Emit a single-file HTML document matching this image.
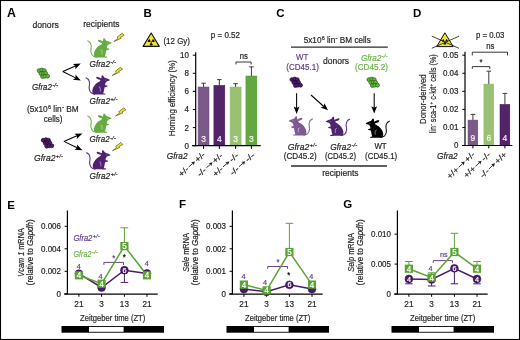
<!DOCTYPE html>
<html><head><meta charset="utf-8"><style>
html,body{margin:0;padding:0;background:#fff;}
svg{display:block;font-family:"Liberation Sans", sans-serif;will-change:transform;}
</style></head><body>
<svg width="520" height="340" viewBox="0 0 520 340">
<rect x="0.5" y="0.5" width="519" height="339" fill="#fff" stroke="#000" stroke-width="1.1"/>
<text x="6.9" y="17.1" font-size="12.3" fill="#000" font-weight="bold">A</text>
<text x="143.6" y="17.2" font-size="11.5" fill="#000" font-weight="bold">B</text>
<text x="276.3" y="17.2" font-size="11.5" fill="#000" font-weight="bold">C</text>
<text x="413.0" y="17.3" font-size="11.5" fill="#000" font-weight="bold">D</text>
<text x="7.3" y="208.8" font-size="11.5" fill="#000" font-weight="bold">E</text>
<text x="179.0" y="207.9" font-size="11.5" fill="#000" font-weight="bold">F</text>
<text x="343.2" y="207.9" font-size="11.5" fill="#000" font-weight="bold">G</text>
<text x="32.5" y="27.6" font-size="9.63" fill="#231f20" stroke="#231f20" stroke-width="0.2" textLength="26.3" lengthAdjust="spacingAndGlyphs">donors</text>
<text x="83.3" y="27.4" font-size="9.63" fill="#231f20" stroke="#231f20" stroke-width="0.2" textLength="36.2" lengthAdjust="spacingAndGlyphs">recipients</text>
<g transform="translate(37.3,68.3)"><circle cx="1.71" cy="2.3" r="1.95" fill="#66b83c" stroke="#285e12" stroke-width="0.7"/><circle cx="4.44" cy="1.7" r="1.95" fill="#66b83c" stroke="#285e12" stroke-width="0.7"/><circle cx="6.99" cy="2.3" r="1.95" fill="#66b83c" stroke="#285e12" stroke-width="0.7"/><circle cx="3.64" cy="5.2" r="1.95" fill="#66b83c" stroke="#285e12" stroke-width="0.7"/><circle cx="6.11" cy="5.0" r="1.95" fill="#66b83c" stroke="#285e12" stroke-width="0.7"/><circle cx="8.31" cy="5.0" r="1.95" fill="#66b83c" stroke="#285e12" stroke-width="0.7"/><circle cx="5.23" cy="8.3" r="1.95" fill="#66b83c" stroke="#285e12" stroke-width="0.7"/><circle cx="7.6" cy="7.9" r="1.95" fill="#66b83c" stroke="#285e12" stroke-width="0.7"/><circle cx="10.33" cy="7.9" r="1.95" fill="#66b83c" stroke="#285e12" stroke-width="0.7"/></g>
<text x="32.1" y="89.89999999999999" font-size="9.1" fill="#231f20" stroke="#231f20" stroke-width="0.2" font-style="italic" textLength="19.8" lengthAdjust="spacingAndGlyphs">Gfra2</text>
<text x="52.2" y="87.17999999999999" font-size="6.18" fill="#231f20" stroke="#231f20" stroke-width="0.2" font-style="italic" textLength="6.0" lengthAdjust="spacingAndGlyphs">-/-</text>
<line x1="62.8" y1="71.5" x2="75.94684461866785" y2="65.72999597291799" stroke="#000" stroke-width="1.05" />
<polygon points="80.80,63.60 75.19,69.23 75.49,65.93 72.86,63.92" fill="#000"/>
<line x1="62.8" y1="71.5" x2="76.05953588770043" y2="78.12976794385023" stroke="#000" stroke-width="1.05" />
<polygon points="80.80,80.50 72.88,79.78 75.61,77.91 75.48,74.60" fill="#000"/>
<g transform="translate(115.3,33.0) scale(-1.05,1.05)"><path d="M18.12,23.02 C18.70,22.78 20.74,22.50 21.60,21.60 C22.46,20.70 23.08,19.10 23.30,17.60 C23.52,16.10 22.80,14.00 22.90,12.60 C23.00,11.20 23.35,10.05 23.90,9.20 C24.45,8.35 25.82,7.78 26.20,7.50 " fill="none" stroke="#66aa42" stroke-width="1.05" stroke-linecap="round" opacity="0.9"/><path d="M3.50,9.50 C3.57,9.34 4.24,9.07 4.60,8.90 C4.96,8.73 5.80,8.37 6.20,8.20 C6.60,8.03 7.24,7.75 7.60,7.60 C7.96,7.45 8.67,7.29 8.90,7.10 C9.13,6.91 9.14,6.48 9.35,6.20 C9.56,5.92 10.20,5.11 10.47,5.00 C10.74,4.89 11.19,5.13 11.34,5.40 C11.49,5.67 11.53,6.64 11.56,6.99 C11.59,7.34 11.53,7.88 11.60,8.00 C11.67,8.12 11.78,8.05 12.10,7.90 C12.42,7.75 13.49,7.09 14.00,6.90 C14.51,6.71 15.55,6.46 15.90,6.50 C16.25,6.54 16.57,6.97 16.60,7.20 C16.63,7.43 16.42,7.96 16.10,8.20 C15.78,8.44 14.66,8.80 14.20,9.00 C13.74,9.20 12.82,9.46 12.66,9.68 C12.50,9.90 12.63,10.29 13.02,10.63 C13.41,10.97 14.91,11.64 15.60,12.20 C16.29,12.76 17.63,14.05 18.20,14.80 C18.77,15.55 19.62,17.03 19.90,17.80 C20.18,18.57 20.35,19.96 20.30,20.60 C20.25,21.24 19.84,22.24 19.50,22.60 C19.16,22.96 18.92,23.19 17.76,23.30 C16.60,23.41 12.09,23.39 10.83,23.40 C9.57,23.41 8.72,23.47 8.28,23.40 C7.84,23.33 7.56,23.02 7.56,22.87 C7.56,22.72 7.99,22.39 8.28,22.29 C8.57,22.19 9.61,22.44 9.74,22.15 C9.87,21.86 9.36,20.72 9.23,20.11 C9.10,19.50 8.89,18.04 8.79,17.55 C8.69,17.06 8.71,16.65 8.50,16.46 C8.29,16.27 7.54,16.20 7.19,16.10 C6.84,16.00 6.03,15.90 5.88,15.73 C5.73,15.56 5.88,15.01 6.10,14.86 C6.32,14.71 7.30,14.72 7.56,14.64 C7.82,14.56 8.04,14.57 8.07,14.28 C8.10,13.99 7.94,12.87 7.77,12.45 C7.60,12.03 7.16,11.36 6.83,11.10 C6.50,10.84 5.66,10.63 5.30,10.50 C4.94,10.37 4.34,10.23 4.10,10.10 C3.86,9.97 3.43,9.66 3.50,9.50 Z" fill="#66aa42"/><path d="M14.11,16.10 C13.93,16.16 13.26,16.16 13.02,16.46 C12.78,16.76 12.72,17.25 12.66,17.92 C12.60,18.59 12.66,20.04 12.66,20.47 " fill="none" stroke="#fff" stroke-width="0.55" opacity="0.8"/><circle cx="7.6" cy="9.5" r="0.45" fill="#fff" opacity="0.7"/></g>
<g transform="translate(113.9,41.5) rotate(40.5) scale(0.78,0.98) translate(-1.0,-12)"><polygon points="2.3,0 5.9,0.4 3.9,4.5 5.4,4.7 1.0,12 2.3,6.7 0.5,6.6" fill="#f2e41a" stroke="#2a2a20" stroke-width="0.55" stroke-linejoin="round" vector-effect="non-scaling-stroke"/></g>
<text x="89.6" y="66.89999999999999" font-size="9.1" fill="#231f20" stroke="#231f20" stroke-width="0.2" font-style="italic" textLength="20.3" lengthAdjust="spacingAndGlyphs">Gfra2</text>
<text x="110.19999999999999" y="64.17999999999999" font-size="6.18" fill="#231f20" stroke="#231f20" stroke-width="0.2" font-style="italic" textLength="6.0" lengthAdjust="spacingAndGlyphs">-/-</text>
<g transform="translate(113.6,70.0) scale(-1.05,1.05)"><path d="M18.12,23.02 C18.70,22.78 20.74,22.50 21.60,21.60 C22.46,20.70 23.08,19.10 23.30,17.60 C23.52,16.10 22.80,14.00 22.90,12.60 C23.00,11.20 23.35,10.05 23.90,9.20 C24.45,8.35 25.82,7.78 26.20,7.50 " fill="none" stroke="#4f2173" stroke-width="1.05" stroke-linecap="round" opacity="0.9"/><path d="M3.50,9.50 C3.57,9.34 4.24,9.07 4.60,8.90 C4.96,8.73 5.80,8.37 6.20,8.20 C6.60,8.03 7.24,7.75 7.60,7.60 C7.96,7.45 8.67,7.29 8.90,7.10 C9.13,6.91 9.14,6.48 9.35,6.20 C9.56,5.92 10.20,5.11 10.47,5.00 C10.74,4.89 11.19,5.13 11.34,5.40 C11.49,5.67 11.53,6.64 11.56,6.99 C11.59,7.34 11.53,7.88 11.60,8.00 C11.67,8.12 11.78,8.05 12.10,7.90 C12.42,7.75 13.49,7.09 14.00,6.90 C14.51,6.71 15.55,6.46 15.90,6.50 C16.25,6.54 16.57,6.97 16.60,7.20 C16.63,7.43 16.42,7.96 16.10,8.20 C15.78,8.44 14.66,8.80 14.20,9.00 C13.74,9.20 12.82,9.46 12.66,9.68 C12.50,9.90 12.63,10.29 13.02,10.63 C13.41,10.97 14.91,11.64 15.60,12.20 C16.29,12.76 17.63,14.05 18.20,14.80 C18.77,15.55 19.62,17.03 19.90,17.80 C20.18,18.57 20.35,19.96 20.30,20.60 C20.25,21.24 19.84,22.24 19.50,22.60 C19.16,22.96 18.92,23.19 17.76,23.30 C16.60,23.41 12.09,23.39 10.83,23.40 C9.57,23.41 8.72,23.47 8.28,23.40 C7.84,23.33 7.56,23.02 7.56,22.87 C7.56,22.72 7.99,22.39 8.28,22.29 C8.57,22.19 9.61,22.44 9.74,22.15 C9.87,21.86 9.36,20.72 9.23,20.11 C9.10,19.50 8.89,18.04 8.79,17.55 C8.69,17.06 8.71,16.65 8.50,16.46 C8.29,16.27 7.54,16.20 7.19,16.10 C6.84,16.00 6.03,15.90 5.88,15.73 C5.73,15.56 5.88,15.01 6.10,14.86 C6.32,14.71 7.30,14.72 7.56,14.64 C7.82,14.56 8.04,14.57 8.07,14.28 C8.10,13.99 7.94,12.87 7.77,12.45 C7.60,12.03 7.16,11.36 6.83,11.10 C6.50,10.84 5.66,10.63 5.30,10.50 C4.94,10.37 4.34,10.23 4.10,10.10 C3.86,9.97 3.43,9.66 3.50,9.50 Z" fill="#4f2173"/><path d="M14.11,16.10 C13.93,16.16 13.26,16.16 13.02,16.46 C12.78,16.76 12.72,17.25 12.66,17.92 C12.60,18.59 12.66,20.04 12.66,20.47 " fill="none" stroke="#fff" stroke-width="0.55" opacity="0.8"/><circle cx="7.6" cy="9.5" r="0.45" fill="#fff" opacity="0.7"/></g>
<g transform="translate(112.2,75.5) rotate(40.5) scale(0.78,0.98) translate(-1.0,-12)"><polygon points="2.3,0 5.9,0.4 3.9,4.5 5.4,4.7 1.0,12 2.3,6.7 0.5,6.6" fill="#f2e41a" stroke="#2a2a20" stroke-width="0.55" stroke-linejoin="round" vector-effect="non-scaling-stroke"/></g>
<text x="89.6" y="104.1" font-size="9.1" fill="#231f20" stroke="#231f20" stroke-width="0.2" font-style="italic" textLength="20.3" lengthAdjust="spacingAndGlyphs">Gfra2</text>
<text x="110.19999999999999" y="101.38" font-size="6.18" fill="#231f20" stroke="#231f20" stroke-width="0.2" font-style="italic" textLength="7.2" lengthAdjust="spacingAndGlyphs">+/-</text>
<text x="26.9" y="111.9" font-size="9.1" fill="#231f20" stroke="#231f20" stroke-width="0.2" textLength="51.8" lengthAdjust="spacingAndGlyphs">(5x10<tspan font-size="6" dx="0.3" dy="-3.2">6</tspan><tspan dy="3.2"> lin</tspan><tspan font-size="6.5" dx="0.4" dy="-3.0">-</tspan><tspan dy="3.0"> BM</tspan></text>
<text x="43.8" y="121.7" font-size="9.1" fill="#231f20" stroke="#231f20" stroke-width="0.2" textLength="18.7" lengthAdjust="spacingAndGlyphs">cells)</text>
<g transform="translate(115.3,108.3) scale(-1.05,1.05)"><path d="M18.12,23.02 C18.70,22.78 20.74,22.50 21.60,21.60 C22.46,20.70 23.08,19.10 23.30,17.60 C23.52,16.10 22.80,14.00 22.90,12.60 C23.00,11.20 23.35,10.05 23.90,9.20 C24.45,8.35 25.82,7.78 26.20,7.50 " fill="none" stroke="#66aa42" stroke-width="1.05" stroke-linecap="round" opacity="0.9"/><path d="M3.50,9.50 C3.57,9.34 4.24,9.07 4.60,8.90 C4.96,8.73 5.80,8.37 6.20,8.20 C6.60,8.03 7.24,7.75 7.60,7.60 C7.96,7.45 8.67,7.29 8.90,7.10 C9.13,6.91 9.14,6.48 9.35,6.20 C9.56,5.92 10.20,5.11 10.47,5.00 C10.74,4.89 11.19,5.13 11.34,5.40 C11.49,5.67 11.53,6.64 11.56,6.99 C11.59,7.34 11.53,7.88 11.60,8.00 C11.67,8.12 11.78,8.05 12.10,7.90 C12.42,7.75 13.49,7.09 14.00,6.90 C14.51,6.71 15.55,6.46 15.90,6.50 C16.25,6.54 16.57,6.97 16.60,7.20 C16.63,7.43 16.42,7.96 16.10,8.20 C15.78,8.44 14.66,8.80 14.20,9.00 C13.74,9.20 12.82,9.46 12.66,9.68 C12.50,9.90 12.63,10.29 13.02,10.63 C13.41,10.97 14.91,11.64 15.60,12.20 C16.29,12.76 17.63,14.05 18.20,14.80 C18.77,15.55 19.62,17.03 19.90,17.80 C20.18,18.57 20.35,19.96 20.30,20.60 C20.25,21.24 19.84,22.24 19.50,22.60 C19.16,22.96 18.92,23.19 17.76,23.30 C16.60,23.41 12.09,23.39 10.83,23.40 C9.57,23.41 8.72,23.47 8.28,23.40 C7.84,23.33 7.56,23.02 7.56,22.87 C7.56,22.72 7.99,22.39 8.28,22.29 C8.57,22.19 9.61,22.44 9.74,22.15 C9.87,21.86 9.36,20.72 9.23,20.11 C9.10,19.50 8.89,18.04 8.79,17.55 C8.69,17.06 8.71,16.65 8.50,16.46 C8.29,16.27 7.54,16.20 7.19,16.10 C6.84,16.00 6.03,15.90 5.88,15.73 C5.73,15.56 5.88,15.01 6.10,14.86 C6.32,14.71 7.30,14.72 7.56,14.64 C7.82,14.56 8.04,14.57 8.07,14.28 C8.10,13.99 7.94,12.87 7.77,12.45 C7.60,12.03 7.16,11.36 6.83,11.10 C6.50,10.84 5.66,10.63 5.30,10.50 C4.94,10.37 4.34,10.23 4.10,10.10 C3.86,9.97 3.43,9.66 3.50,9.50 Z" fill="#66aa42"/><path d="M14.11,16.10 C13.93,16.16 13.26,16.16 13.02,16.46 C12.78,16.76 12.72,17.25 12.66,17.92 C12.60,18.59 12.66,20.04 12.66,20.47 " fill="none" stroke="#fff" stroke-width="0.55" opacity="0.8"/><circle cx="7.6" cy="9.5" r="0.45" fill="#fff" opacity="0.7"/></g>
<g transform="translate(115.5,116.1) rotate(40.5) scale(0.78,0.98) translate(-1.0,-12)"><polygon points="2.3,0 5.9,0.4 3.9,4.5 5.4,4.7 1.0,12 2.3,6.7 0.5,6.6" fill="#f2e41a" stroke="#2a2a20" stroke-width="0.55" stroke-linejoin="round" vector-effect="non-scaling-stroke"/></g>
<text x="89.6" y="142.3" font-size="9.1" fill="#231f20" stroke="#231f20" stroke-width="0.2" font-style="italic" textLength="20.0" lengthAdjust="spacingAndGlyphs">Gfra2</text>
<text x="109.89999999999999" y="139.58" font-size="6.18" fill="#231f20" stroke="#231f20" stroke-width="0.2" font-style="italic" textLength="6.0" lengthAdjust="spacingAndGlyphs">-/-</text>
<g transform="translate(41.5,137.9)"><circle cx="1.71" cy="2.3" r="1.95" fill="#4f1f6e" stroke="#200630" stroke-width="0.7"/><circle cx="4.44" cy="1.7" r="1.95" fill="#4f1f6e" stroke="#200630" stroke-width="0.7"/><circle cx="6.99" cy="2.3" r="1.95" fill="#4f1f6e" stroke="#200630" stroke-width="0.7"/><circle cx="3.64" cy="5.2" r="1.95" fill="#4f1f6e" stroke="#200630" stroke-width="0.7"/><circle cx="6.11" cy="5.0" r="1.95" fill="#4f1f6e" stroke="#200630" stroke-width="0.7"/><circle cx="8.31" cy="5.0" r="1.95" fill="#4f1f6e" stroke="#200630" stroke-width="0.7"/><circle cx="5.23" cy="8.3" r="1.95" fill="#4f1f6e" stroke="#200630" stroke-width="0.7"/><circle cx="7.6" cy="7.9" r="1.95" fill="#4f1f6e" stroke="#200630" stroke-width="0.7"/><circle cx="10.33" cy="7.9" r="1.95" fill="#4f1f6e" stroke="#200630" stroke-width="0.7"/></g>
<line x1="63.9" y1="141.4" x2="77.53535770941124" y2="135.50362909863298" stroke="#000" stroke-width="1.05" />
<polygon points="82.40,133.40 76.76,139.00 77.08,135.70 74.46,133.68" fill="#000"/>
<line x1="63.9" y1="141.4" x2="77.6239439310188" y2="148.00232978303066" stroke="#000" stroke-width="1.05" />
<polygon points="82.40,150.30 74.47,149.71 77.17,147.79 76.99,144.48" fill="#000"/>
<text x="34.0" y="160.5" font-size="9.1" fill="#231f20" stroke="#231f20" stroke-width="0.2" font-style="italic" textLength="21.400000000000002" lengthAdjust="spacingAndGlyphs">Gfra2</text>
<text x="55.7" y="157.78" font-size="6.18" fill="#231f20" stroke="#231f20" stroke-width="0.2" font-style="italic" textLength="7.2" lengthAdjust="spacingAndGlyphs">+/-</text>
<g transform="translate(114.1,144.9) scale(-1.05,1.05)"><path d="M18.12,23.02 C18.70,22.78 20.74,22.50 21.60,21.60 C22.46,20.70 23.08,19.10 23.30,17.60 C23.52,16.10 22.80,14.00 22.90,12.60 C23.00,11.20 23.35,10.05 23.90,9.20 C24.45,8.35 25.82,7.78 26.20,7.50 " fill="none" stroke="#4f2173" stroke-width="1.05" stroke-linecap="round" opacity="0.9"/><path d="M3.50,9.50 C3.57,9.34 4.24,9.07 4.60,8.90 C4.96,8.73 5.80,8.37 6.20,8.20 C6.60,8.03 7.24,7.75 7.60,7.60 C7.96,7.45 8.67,7.29 8.90,7.10 C9.13,6.91 9.14,6.48 9.35,6.20 C9.56,5.92 10.20,5.11 10.47,5.00 C10.74,4.89 11.19,5.13 11.34,5.40 C11.49,5.67 11.53,6.64 11.56,6.99 C11.59,7.34 11.53,7.88 11.60,8.00 C11.67,8.12 11.78,8.05 12.10,7.90 C12.42,7.75 13.49,7.09 14.00,6.90 C14.51,6.71 15.55,6.46 15.90,6.50 C16.25,6.54 16.57,6.97 16.60,7.20 C16.63,7.43 16.42,7.96 16.10,8.20 C15.78,8.44 14.66,8.80 14.20,9.00 C13.74,9.20 12.82,9.46 12.66,9.68 C12.50,9.90 12.63,10.29 13.02,10.63 C13.41,10.97 14.91,11.64 15.60,12.20 C16.29,12.76 17.63,14.05 18.20,14.80 C18.77,15.55 19.62,17.03 19.90,17.80 C20.18,18.57 20.35,19.96 20.30,20.60 C20.25,21.24 19.84,22.24 19.50,22.60 C19.16,22.96 18.92,23.19 17.76,23.30 C16.60,23.41 12.09,23.39 10.83,23.40 C9.57,23.41 8.72,23.47 8.28,23.40 C7.84,23.33 7.56,23.02 7.56,22.87 C7.56,22.72 7.99,22.39 8.28,22.29 C8.57,22.19 9.61,22.44 9.74,22.15 C9.87,21.86 9.36,20.72 9.23,20.11 C9.10,19.50 8.89,18.04 8.79,17.55 C8.69,17.06 8.71,16.65 8.50,16.46 C8.29,16.27 7.54,16.20 7.19,16.10 C6.84,16.00 6.03,15.90 5.88,15.73 C5.73,15.56 5.88,15.01 6.10,14.86 C6.32,14.71 7.30,14.72 7.56,14.64 C7.82,14.56 8.04,14.57 8.07,14.28 C8.10,13.99 7.94,12.87 7.77,12.45 C7.60,12.03 7.16,11.36 6.83,11.10 C6.50,10.84 5.66,10.63 5.30,10.50 C4.94,10.37 4.34,10.23 4.10,10.10 C3.86,9.97 3.43,9.66 3.50,9.50 Z" fill="#4f2173"/><path d="M14.11,16.10 C13.93,16.16 13.26,16.16 13.02,16.46 C12.78,16.76 12.72,17.25 12.66,17.92 C12.60,18.59 12.66,20.04 12.66,20.47 " fill="none" stroke="#fff" stroke-width="0.55" opacity="0.8"/><circle cx="7.6" cy="9.5" r="0.45" fill="#fff" opacity="0.7"/></g>
<g transform="translate(112.5,150.7) rotate(40.5) scale(0.78,0.98) translate(-1.0,-12)"><polygon points="2.3,0 5.9,0.4 3.9,4.5 5.4,4.7 1.0,12 2.3,6.7 0.5,6.6" fill="#f2e41a" stroke="#2a2a20" stroke-width="0.55" stroke-linejoin="round" vector-effect="non-scaling-stroke"/></g>
<text x="89.6" y="178.8" font-size="9.1" fill="#231f20" stroke="#231f20" stroke-width="0.2" font-style="italic" textLength="20.5" lengthAdjust="spacingAndGlyphs">Gfra2</text>
<text x="110.39999999999999" y="176.08" font-size="6.18" fill="#231f20" stroke="#231f20" stroke-width="0.2" font-style="italic" textLength="7.2" lengthAdjust="spacingAndGlyphs">+/-</text>
<polygon points="151.2,33.0 159.3,46.4 143.1,46.4" fill="#f3e62e" stroke="#111" stroke-width="1.1" stroke-linejoin="round"/>
<g transform="translate(151.2,42.0) scale(1.0)"><circle r="0.75" fill="#111"/><path d="M-0.57,-1.00 L-1.75,-3.03 A3.5,3.5 0 0 1 1.75,-3.03 L0.57,-1.00 A1.15,1.15 0 0 0 -0.57,-1.00 Z" fill="#111" transform="rotate(-60)"/><path d="M-0.57,-1.00 L-1.75,-3.03 A3.5,3.5 0 0 1 1.75,-3.03 L0.57,-1.00 A1.15,1.15 0 0 0 -0.57,-1.00 Z" fill="#111" transform="rotate(60)"/><path d="M-0.57,-1.00 L-1.75,-3.03 A3.5,3.5 0 0 1 1.75,-3.03 L0.57,-1.00 A1.15,1.15 0 0 0 -0.57,-1.00 Z" fill="#111" transform="rotate(180)"/></g>
<text x="163.4" y="43.7" font-size="9.1" fill="#231f20" stroke="#231f20" stroke-width="0.2" textLength="26.6" lengthAdjust="spacingAndGlyphs">(12 Gy)</text>
<text x="210.8" y="37.7" font-size="8.56" fill="#231f20" stroke="#231f20" stroke-width="0.2" textLength="29.2" lengthAdjust="spacingAndGlyphs">p = 0.52</text>
<line x1="203.55" y1="87.0" x2="203.55" y2="83.2" stroke="#3a3a3a" stroke-width="1" />
<line x1="201.25" y1="83.2" x2="205.85000000000002" y2="83.2" stroke="#3a3a3a" stroke-width="1" />
<rect x="198.1" y="87.0" width="10.900000000000006" height="58.69999999999999" fill="#7b5a8a" stroke="#6a4a7a" stroke-width="0.5"/>
<text x="203.55" y="141.6" font-size="9.1" fill="#fff" stroke="#fff" stroke-width="0.2" text-anchor="middle" textLength="4.73" lengthAdjust="spacingAndGlyphs" fill-opacity="0.9">3</text>
<line x1="203.55" y1="145.7" x2="203.55" y2="148.9" stroke="#000" stroke-width="1" />
<line x1="219.35000000000002" y1="85.4" x2="219.35000000000002" y2="79.6" stroke="#3a3a3a" stroke-width="1" />
<line x1="217.05" y1="79.6" x2="221.65000000000003" y2="79.6" stroke="#3a3a3a" stroke-width="1" />
<rect x="213.9" y="85.4" width="10.900000000000006" height="60.29999999999998" fill="#53246a" stroke="#3c1052" stroke-width="0.5"/>
<text x="219.35000000000002" y="141.6" font-size="9.1" fill="#fff" stroke="#fff" stroke-width="0.2" text-anchor="middle" textLength="4.73" lengthAdjust="spacingAndGlyphs" fill-opacity="0.9">4</text>
<line x1="219.35000000000002" y1="145.7" x2="219.35000000000002" y2="148.9" stroke="#000" stroke-width="1" />
<line x1="235.6" y1="87.0" x2="235.6" y2="83.7" stroke="#3a3a3a" stroke-width="1" />
<line x1="233.29999999999998" y1="83.7" x2="237.9" y2="83.7" stroke="#3a3a3a" stroke-width="1" />
<rect x="230.1" y="87.0" width="11.0" height="58.69999999999999" fill="#98c173" stroke="#8ab565" stroke-width="0.5"/>
<text x="235.6" y="141.6" font-size="9.1" fill="#fff" stroke="#fff" stroke-width="0.2" text-anchor="middle" textLength="4.73" lengthAdjust="spacingAndGlyphs" fill-opacity="0.9">3</text>
<line x1="235.6" y1="145.7" x2="235.6" y2="148.9" stroke="#000" stroke-width="1" />
<line x1="251.39999999999998" y1="76.0" x2="251.39999999999998" y2="66.9" stroke="#3a3a3a" stroke-width="1" />
<line x1="249.09999999999997" y1="66.9" x2="253.7" y2="66.9" stroke="#3a3a3a" stroke-width="1" />
<rect x="245.9" y="76.0" width="10.999999999999972" height="69.69999999999999" fill="#62a73f" stroke="#54992f" stroke-width="0.5"/>
<text x="251.39999999999998" y="141.6" font-size="9.1" fill="#fff" stroke="#fff" stroke-width="0.2" text-anchor="middle" textLength="4.73" lengthAdjust="spacingAndGlyphs" fill-opacity="0.9">3</text>
<line x1="251.39999999999998" y1="145.7" x2="251.39999999999998" y2="148.9" stroke="#000" stroke-width="1" />
<line x1="195.7" y1="52.3" x2="195.7" y2="146.2" stroke="#000" stroke-width="1.2" />
<line x1="192.0" y1="145.7" x2="260.7" y2="145.7" stroke="#000" stroke-width="1.2" />
<line x1="192.8" y1="145.7" x2="195.7" y2="145.7" stroke="#000" stroke-width="1" />
<text x="189.0" y="148.6" font-size="8.56" fill="#231f20" stroke="#231f20" stroke-width="0.2" text-anchor="end" textLength="4.45" lengthAdjust="spacingAndGlyphs">0</text>
<line x1="192.8" y1="127.6" x2="195.7" y2="127.6" stroke="#000" stroke-width="1" />
<text x="189.0" y="130.5" font-size="8.56" fill="#231f20" stroke="#231f20" stroke-width="0.2" text-anchor="end" textLength="4.45" lengthAdjust="spacingAndGlyphs">2</text>
<line x1="192.8" y1="109.49999999999999" x2="195.7" y2="109.49999999999999" stroke="#000" stroke-width="1" />
<text x="189.0" y="112.39999999999999" font-size="8.56" fill="#231f20" stroke="#231f20" stroke-width="0.2" text-anchor="end" textLength="4.45" lengthAdjust="spacingAndGlyphs">4</text>
<line x1="192.8" y1="91.39999999999998" x2="195.7" y2="91.39999999999998" stroke="#000" stroke-width="1" />
<text x="189.0" y="94.29999999999998" font-size="8.56" fill="#231f20" stroke="#231f20" stroke-width="0.2" text-anchor="end" textLength="4.45" lengthAdjust="spacingAndGlyphs">6</text>
<line x1="192.8" y1="73.29999999999998" x2="195.7" y2="73.29999999999998" stroke="#000" stroke-width="1" />
<text x="189.0" y="76.19999999999999" font-size="8.56" fill="#231f20" stroke="#231f20" stroke-width="0.2" text-anchor="end" textLength="4.45" lengthAdjust="spacingAndGlyphs">8</text>
<line x1="192.8" y1="55.19999999999999" x2="195.7" y2="55.19999999999999" stroke="#000" stroke-width="1" />
<text x="189.0" y="58.09999999999999" font-size="8.56" fill="#231f20" stroke="#231f20" stroke-width="0.2" text-anchor="end" textLength="8.9" lengthAdjust="spacingAndGlyphs">10</text>
<path d="M236,64.4 V62 H251.1 V64.4" fill="none" stroke="#231f20" stroke-width="0.9"/>
<text x="243.9" y="58.6" font-size="8.24" fill="#231f20" stroke="#231f20" stroke-width="0.2" text-anchor="middle" textLength="8.13" lengthAdjust="spacingAndGlyphs">ns</text>
<text x="0" y="0" font-size="9.2" fill="#231f20" stroke="#231f20" stroke-width="0.2" text-anchor="middle" textLength="76" lengthAdjust="spacingAndGlyphs" transform="translate(175.4,98.2) rotate(-90)">Homing efficiency (%)</text>
<text x="166.8" y="158.6" font-size="9.1" fill="#231f20" stroke="#231f20" stroke-width="0.2" font-style="italic" textLength="20.7" lengthAdjust="spacingAndGlyphs">Gfra2</text>
<g class="rl" transform="translate(181.40,177.20) rotate(-41.5)"><text x="0" y="0" font-size="8.2" fill="#231f20" stroke="#231f20" stroke-width="0.2" textLength="10.9" lengthAdjust="spacingAndGlyphs">+/-</text><line x1="12.200000000000001" y1="-2.8" x2="17.8" y2="-2.8" stroke="#231f20" stroke-width="0.85"/><polygon points="20.6,-2.8 17.0,-4.8 17.700000000000003,-2.8 17.0,-0.8" fill="#231f20"/><text x="21.8" y="0" font-size="8.2" fill="#231f20" stroke="#231f20" stroke-width="0.2" textLength="10.9" lengthAdjust="spacingAndGlyphs">+/-</text></g>
<g class="rl" transform="translate(199.97,177.24) rotate(-41.5)"><text x="0" y="0" font-size="8.2" fill="#231f20" stroke="#231f20" stroke-width="0.2" textLength="9.6" lengthAdjust="spacingAndGlyphs">-/-</text><line x1="10.9" y1="-2.8" x2="16.5" y2="-2.8" stroke="#231f20" stroke-width="0.85"/><polygon points="19.3,-2.8 15.700000000000001,-4.8 16.400000000000002,-2.8 15.700000000000001,-0.8" fill="#231f20"/><text x="20.5" y="0" font-size="8.2" fill="#231f20" stroke="#231f20" stroke-width="0.2" textLength="10.9" lengthAdjust="spacingAndGlyphs">+/-</text></g>
<g class="rl" transform="translate(215.67,177.14) rotate(-41.5)"><text x="0" y="0" font-size="8.2" fill="#231f20" stroke="#231f20" stroke-width="0.2" textLength="10.9" lengthAdjust="spacingAndGlyphs">+/-</text><line x1="12.200000000000001" y1="-2.8" x2="17.8" y2="-2.8" stroke="#231f20" stroke-width="0.85"/><polygon points="20.6,-2.8 17.0,-4.8 17.700000000000003,-2.8 17.0,-0.8" fill="#231f20"/><text x="21.8" y="0" font-size="8.2" fill="#231f20" stroke="#231f20" stroke-width="0.2" textLength="9.6" lengthAdjust="spacingAndGlyphs">-/-</text></g>
<g class="rl" transform="translate(232.65,176.08) rotate(-41.5)"><text x="0" y="0" font-size="8.2" fill="#231f20" stroke="#231f20" stroke-width="0.2" textLength="9.6" lengthAdjust="spacingAndGlyphs">-/-</text><line x1="10.9" y1="-2.8" x2="16.5" y2="-2.8" stroke="#231f20" stroke-width="0.85"/><polygon points="19.3,-2.8 15.700000000000001,-4.8 16.400000000000002,-2.8 15.700000000000001,-0.8" fill="#231f20"/><text x="20.5" y="0" font-size="8.2" fill="#231f20" stroke="#231f20" stroke-width="0.2" textLength="9.6" lengthAdjust="spacingAndGlyphs">-/-</text></g>
<text x="303.7" y="42.9" font-size="9.1" fill="#231f20" stroke="#231f20" stroke-width="0.2" textLength="67.1" lengthAdjust="spacingAndGlyphs">5x10<tspan font-size="6" dx="0.3" dy="-3.2">6</tspan><tspan dy="3.2"> lin</tspan><tspan font-size="6.5" dx="0.4" dy="-3.0">-</tspan><tspan dy="3.0"> BM cells</tspan></text>
<line x1="291" y1="47.1" x2="387.8" y2="47.1" stroke="#2a2a2a" stroke-width="1.3" />
<text x="296.1" y="60.4" font-size="9.1" fill="#63408a" stroke="#63408a" stroke-width="0.2" textLength="12.3" lengthAdjust="spacingAndGlyphs">WT</text>
<text x="286.3" y="69.6" font-size="9.1" fill="#63408a" stroke="#63408a" stroke-width="0.2" textLength="32.6" lengthAdjust="spacingAndGlyphs">(CD45.1)</text>
<text x="323.0" y="63.8" font-size="9.1" fill="#231f20" stroke="#231f20" stroke-width="0.2" textLength="26" lengthAdjust="spacingAndGlyphs">donors</text>
<text x="360.9" y="60.699999999999996" font-size="9.1" fill="#6ab344" stroke="#6ab344" stroke-width="0.2" font-style="italic" textLength="20.400000000000002" lengthAdjust="spacingAndGlyphs">Gfra2</text>
<text x="381.59999999999997" y="57.98" font-size="6.18" fill="#6ab344" stroke="#6ab344" stroke-width="0.2" font-style="italic" textLength="6.0" lengthAdjust="spacingAndGlyphs">-/-</text>
<text x="355.0" y="69.6" font-size="9.1" fill="#6ab344" stroke="#6ab344" stroke-width="0.2" textLength="33" lengthAdjust="spacingAndGlyphs">(CD45.2)</text>
<g transform="translate(290.2,77.3)"><circle cx="1.71" cy="2.3" r="1.95" fill="#4f1f6e" stroke="#200630" stroke-width="0.7"/><circle cx="4.44" cy="1.7" r="1.95" fill="#4f1f6e" stroke="#200630" stroke-width="0.7"/><circle cx="6.99" cy="2.3" r="1.95" fill="#4f1f6e" stroke="#200630" stroke-width="0.7"/><circle cx="3.64" cy="5.2" r="1.95" fill="#4f1f6e" stroke="#200630" stroke-width="0.7"/><circle cx="6.11" cy="5.0" r="1.95" fill="#4f1f6e" stroke="#200630" stroke-width="0.7"/><circle cx="8.31" cy="5.0" r="1.95" fill="#4f1f6e" stroke="#200630" stroke-width="0.7"/><circle cx="5.23" cy="8.3" r="1.95" fill="#4f1f6e" stroke="#200630" stroke-width="0.7"/><circle cx="7.6" cy="7.9" r="1.95" fill="#4f1f6e" stroke="#200630" stroke-width="0.7"/><circle cx="10.33" cy="7.9" r="1.95" fill="#4f1f6e" stroke="#200630" stroke-width="0.7"/></g>
<g transform="translate(367.2,77.3)"><circle cx="1.71" cy="2.3" r="1.95" fill="#66b83c" stroke="#285e12" stroke-width="0.7"/><circle cx="4.44" cy="1.7" r="1.95" fill="#66b83c" stroke="#285e12" stroke-width="0.7"/><circle cx="6.99" cy="2.3" r="1.95" fill="#66b83c" stroke="#285e12" stroke-width="0.7"/><circle cx="3.64" cy="5.2" r="1.95" fill="#66b83c" stroke="#285e12" stroke-width="0.7"/><circle cx="6.11" cy="5.0" r="1.95" fill="#66b83c" stroke="#285e12" stroke-width="0.7"/><circle cx="8.31" cy="5.0" r="1.95" fill="#66b83c" stroke="#285e12" stroke-width="0.7"/><circle cx="5.23" cy="8.3" r="1.95" fill="#66b83c" stroke="#285e12" stroke-width="0.7"/><circle cx="7.6" cy="7.9" r="1.95" fill="#66b83c" stroke="#285e12" stroke-width="0.7"/><circle cx="10.33" cy="7.9" r="1.95" fill="#66b83c" stroke="#285e12" stroke-width="0.7"/></g>
<line x1="296.6" y1="93.2" x2="296.6" y2="108.6" stroke="#000" stroke-width="1.05" />
<polygon points="296.60,113.90 293.70,106.50 296.60,108.10 299.50,106.50" fill="#000"/>
<line x1="311.0" y1="95.0" x2="324.06054102489003" y2="106.75448692240101" stroke="#000" stroke-width="1.05" />
<polygon points="328.00,110.30 320.56,107.51 323.69,106.42 324.44,103.19" fill="#000"/>
<line x1="374.2" y1="93.2" x2="374.2" y2="108.29999999999998" stroke="#000" stroke-width="1.05" />
<polygon points="374.20,113.60 371.30,106.20 374.20,107.80 377.10,106.20" fill="#000"/>
<g transform="translate(285.0,111.0) scale(1.05)"><path d="M18.12,23.02 C18.70,22.78 20.74,22.50 21.60,21.60 C22.46,20.70 23.08,19.10 23.30,17.60 C23.52,16.10 22.80,14.00 22.90,12.60 C23.00,11.20 23.35,10.05 23.90,9.20 C24.45,8.35 25.82,7.78 26.20,7.50 " fill="none" stroke="#7d5a92" stroke-width="1.05" stroke-linecap="round" opacity="0.9"/><path d="M3.50,9.50 C3.57,9.34 4.24,9.07 4.60,8.90 C4.96,8.73 5.80,8.37 6.20,8.20 C6.60,8.03 7.24,7.75 7.60,7.60 C7.96,7.45 8.67,7.29 8.90,7.10 C9.13,6.91 9.14,6.48 9.35,6.20 C9.56,5.92 10.20,5.11 10.47,5.00 C10.74,4.89 11.19,5.13 11.34,5.40 C11.49,5.67 11.53,6.64 11.56,6.99 C11.59,7.34 11.53,7.88 11.60,8.00 C11.67,8.12 11.78,8.05 12.10,7.90 C12.42,7.75 13.49,7.09 14.00,6.90 C14.51,6.71 15.55,6.46 15.90,6.50 C16.25,6.54 16.57,6.97 16.60,7.20 C16.63,7.43 16.42,7.96 16.10,8.20 C15.78,8.44 14.66,8.80 14.20,9.00 C13.74,9.20 12.82,9.46 12.66,9.68 C12.50,9.90 12.63,10.29 13.02,10.63 C13.41,10.97 14.91,11.64 15.60,12.20 C16.29,12.76 17.63,14.05 18.20,14.80 C18.77,15.55 19.62,17.03 19.90,17.80 C20.18,18.57 20.35,19.96 20.30,20.60 C20.25,21.24 19.84,22.24 19.50,22.60 C19.16,22.96 18.92,23.19 17.76,23.30 C16.60,23.41 12.09,23.39 10.83,23.40 C9.57,23.41 8.72,23.47 8.28,23.40 C7.84,23.33 7.56,23.02 7.56,22.87 C7.56,22.72 7.99,22.39 8.28,22.29 C8.57,22.19 9.61,22.44 9.74,22.15 C9.87,21.86 9.36,20.72 9.23,20.11 C9.10,19.50 8.89,18.04 8.79,17.55 C8.69,17.06 8.71,16.65 8.50,16.46 C8.29,16.27 7.54,16.20 7.19,16.10 C6.84,16.00 6.03,15.90 5.88,15.73 C5.73,15.56 5.88,15.01 6.10,14.86 C6.32,14.71 7.30,14.72 7.56,14.64 C7.82,14.56 8.04,14.57 8.07,14.28 C8.10,13.99 7.94,12.87 7.77,12.45 C7.60,12.03 7.16,11.36 6.83,11.10 C6.50,10.84 5.66,10.63 5.30,10.50 C4.94,10.37 4.34,10.23 4.10,10.10 C3.86,9.97 3.43,9.66 3.50,9.50 Z" fill="#7d5a92"/><path d="M14.11,16.10 C13.93,16.16 13.26,16.16 13.02,16.46 C12.78,16.76 12.72,17.25 12.66,17.92 C12.60,18.59 12.66,20.04 12.66,20.47 " fill="none" stroke="#fff" stroke-width="0.55" opacity="0.8"/><circle cx="7.6" cy="9.5" r="0.45" fill="#fff" opacity="0.7"/></g>
<g transform="translate(322.1,111.4) scale(1.05)"><path d="M18.12,23.02 C18.70,22.78 20.74,22.50 21.60,21.60 C22.46,20.70 23.08,19.10 23.30,17.60 C23.52,16.10 22.80,14.00 22.90,12.60 C23.00,11.20 23.35,10.05 23.90,9.20 C24.45,8.35 25.82,7.78 26.20,7.50 " fill="none" stroke="#4e2370" stroke-width="1.05" stroke-linecap="round" opacity="0.9"/><path d="M3.50,9.50 C3.57,9.34 4.24,9.07 4.60,8.90 C4.96,8.73 5.80,8.37 6.20,8.20 C6.60,8.03 7.24,7.75 7.60,7.60 C7.96,7.45 8.67,7.29 8.90,7.10 C9.13,6.91 9.14,6.48 9.35,6.20 C9.56,5.92 10.20,5.11 10.47,5.00 C10.74,4.89 11.19,5.13 11.34,5.40 C11.49,5.67 11.53,6.64 11.56,6.99 C11.59,7.34 11.53,7.88 11.60,8.00 C11.67,8.12 11.78,8.05 12.10,7.90 C12.42,7.75 13.49,7.09 14.00,6.90 C14.51,6.71 15.55,6.46 15.90,6.50 C16.25,6.54 16.57,6.97 16.60,7.20 C16.63,7.43 16.42,7.96 16.10,8.20 C15.78,8.44 14.66,8.80 14.20,9.00 C13.74,9.20 12.82,9.46 12.66,9.68 C12.50,9.90 12.63,10.29 13.02,10.63 C13.41,10.97 14.91,11.64 15.60,12.20 C16.29,12.76 17.63,14.05 18.20,14.80 C18.77,15.55 19.62,17.03 19.90,17.80 C20.18,18.57 20.35,19.96 20.30,20.60 C20.25,21.24 19.84,22.24 19.50,22.60 C19.16,22.96 18.92,23.19 17.76,23.30 C16.60,23.41 12.09,23.39 10.83,23.40 C9.57,23.41 8.72,23.47 8.28,23.40 C7.84,23.33 7.56,23.02 7.56,22.87 C7.56,22.72 7.99,22.39 8.28,22.29 C8.57,22.19 9.61,22.44 9.74,22.15 C9.87,21.86 9.36,20.72 9.23,20.11 C9.10,19.50 8.89,18.04 8.79,17.55 C8.69,17.06 8.71,16.65 8.50,16.46 C8.29,16.27 7.54,16.20 7.19,16.10 C6.84,16.00 6.03,15.90 5.88,15.73 C5.73,15.56 5.88,15.01 6.10,14.86 C6.32,14.71 7.30,14.72 7.56,14.64 C7.82,14.56 8.04,14.57 8.07,14.28 C8.10,13.99 7.94,12.87 7.77,12.45 C7.60,12.03 7.16,11.36 6.83,11.10 C6.50,10.84 5.66,10.63 5.30,10.50 C4.94,10.37 4.34,10.23 4.10,10.10 C3.86,9.97 3.43,9.66 3.50,9.50 Z" fill="#4e2370"/><path d="M14.11,16.10 C13.93,16.16 13.26,16.16 13.02,16.46 C12.78,16.76 12.72,17.25 12.66,17.92 C12.60,18.59 12.66,20.04 12.66,20.47 " fill="none" stroke="#fff" stroke-width="0.55" opacity="0.8"/><circle cx="7.6" cy="9.5" r="0.45" fill="#fff" opacity="0.7"/></g>
<g transform="translate(361.9,113.3) scale(1.05)"><path d="M18.12,23.02 C18.70,22.78 20.74,22.50 21.60,21.60 C22.46,20.70 23.08,19.10 23.30,17.60 C23.52,16.10 22.80,14.00 22.90,12.60 C23.00,11.20 23.35,10.05 23.90,9.20 C24.45,8.35 25.82,7.78 26.20,7.50 " fill="none" stroke="#000" stroke-width="1.05" stroke-linecap="round" opacity="0.9"/><path d="M3.50,9.50 C3.57,9.34 4.24,9.07 4.60,8.90 C4.96,8.73 5.80,8.37 6.20,8.20 C6.60,8.03 7.24,7.75 7.60,7.60 C7.96,7.45 8.67,7.29 8.90,7.10 C9.13,6.91 9.14,6.48 9.35,6.20 C9.56,5.92 10.20,5.11 10.47,5.00 C10.74,4.89 11.19,5.13 11.34,5.40 C11.49,5.67 11.53,6.64 11.56,6.99 C11.59,7.34 11.53,7.88 11.60,8.00 C11.67,8.12 11.78,8.05 12.10,7.90 C12.42,7.75 13.49,7.09 14.00,6.90 C14.51,6.71 15.55,6.46 15.90,6.50 C16.25,6.54 16.57,6.97 16.60,7.20 C16.63,7.43 16.42,7.96 16.10,8.20 C15.78,8.44 14.66,8.80 14.20,9.00 C13.74,9.20 12.82,9.46 12.66,9.68 C12.50,9.90 12.63,10.29 13.02,10.63 C13.41,10.97 14.91,11.64 15.60,12.20 C16.29,12.76 17.63,14.05 18.20,14.80 C18.77,15.55 19.62,17.03 19.90,17.80 C20.18,18.57 20.35,19.96 20.30,20.60 C20.25,21.24 19.84,22.24 19.50,22.60 C19.16,22.96 18.92,23.19 17.76,23.30 C16.60,23.41 12.09,23.39 10.83,23.40 C9.57,23.41 8.72,23.47 8.28,23.40 C7.84,23.33 7.56,23.02 7.56,22.87 C7.56,22.72 7.99,22.39 8.28,22.29 C8.57,22.19 9.61,22.44 9.74,22.15 C9.87,21.86 9.36,20.72 9.23,20.11 C9.10,19.50 8.89,18.04 8.79,17.55 C8.69,17.06 8.71,16.65 8.50,16.46 C8.29,16.27 7.54,16.20 7.19,16.10 C6.84,16.00 6.03,15.90 5.88,15.73 C5.73,15.56 5.88,15.01 6.10,14.86 C6.32,14.71 7.30,14.72 7.56,14.64 C7.82,14.56 8.04,14.57 8.07,14.28 C8.10,13.99 7.94,12.87 7.77,12.45 C7.60,12.03 7.16,11.36 6.83,11.10 C6.50,10.84 5.66,10.63 5.30,10.50 C4.94,10.37 4.34,10.23 4.10,10.10 C3.86,9.97 3.43,9.66 3.50,9.50 Z" fill="#000"/><path d="M14.11,16.10 C13.93,16.16 13.26,16.16 13.02,16.46 C12.78,16.76 12.72,17.25 12.66,17.92 C12.60,18.59 12.66,20.04 12.66,20.47 " fill="none" stroke="#fff" stroke-width="0.55" opacity="0.8"/><circle cx="7.6" cy="9.5" r="0.45" fill="#fff" opacity="0.7"/></g>
<text x="287.8" y="149.8" font-size="9.1" fill="#231f20" stroke="#231f20" stroke-width="0.2" font-style="italic" textLength="21.5" lengthAdjust="spacingAndGlyphs">Gfra2</text>
<text x="309.6" y="147.08" font-size="6.18" fill="#231f20" stroke="#231f20" stroke-width="0.2" font-style="italic" textLength="7.2" lengthAdjust="spacingAndGlyphs">+/-</text>
<text x="283.8" y="158.6" font-size="9.1" fill="#231f20" stroke="#231f20" stroke-width="0.2" textLength="32.9" lengthAdjust="spacingAndGlyphs">(CD45.2)</text>
<text x="330.3" y="149.8" font-size="9.1" fill="#231f20" stroke="#231f20" stroke-width="0.2" font-style="italic" textLength="20.8" lengthAdjust="spacingAndGlyphs">Gfra2</text>
<text x="351.40000000000003" y="147.08" font-size="6.18" fill="#231f20" stroke="#231f20" stroke-width="0.2" font-style="italic" textLength="6.0" lengthAdjust="spacingAndGlyphs">-/-</text>
<text x="325.0" y="158.6" font-size="9.1" fill="#231f20" stroke="#231f20" stroke-width="0.2" textLength="31" lengthAdjust="spacingAndGlyphs">(CD45.2)</text>
<text x="374.4" y="149.3" font-size="9.1" fill="#231f20" stroke="#231f20" stroke-width="0.2" textLength="12.3" lengthAdjust="spacingAndGlyphs">WT</text>
<text x="365.0" y="158.6" font-size="9.1" fill="#231f20" stroke="#231f20" stroke-width="0.2" textLength="32.2" lengthAdjust="spacingAndGlyphs">(CD45.1)</text>
<line x1="291" y1="166.0" x2="387" y2="166.0" stroke="#2a2a2a" stroke-width="1.3" />
<text x="322.2" y="176.0" font-size="9.1" fill="#231f20" stroke="#231f20" stroke-width="0.2" textLength="36.3" lengthAdjust="spacingAndGlyphs">recipients</text>
<polygon points="444.9,32.8 453.2,46.6 436.7,46.6" fill="#f3e62e" stroke="#111" stroke-width="1.0" stroke-linejoin="round"/>
<g transform="translate(444.9,41.6) scale(0.85)"><circle r="0.75" fill="#111"/><path d="M-0.57,-1.00 L-1.75,-3.03 A3.5,3.5 0 0 1 1.75,-3.03 L0.57,-1.00 A1.15,1.15 0 0 0 -0.57,-1.00 Z" fill="#111" transform="rotate(-60)"/><path d="M-0.57,-1.00 L-1.75,-3.03 A3.5,3.5 0 0 1 1.75,-3.03 L0.57,-1.00 A1.15,1.15 0 0 0 -0.57,-1.00 Z" fill="#111" transform="rotate(60)"/><path d="M-0.57,-1.00 L-1.75,-3.03 A3.5,3.5 0 0 1 1.75,-3.03 L0.57,-1.00 A1.15,1.15 0 0 0 -0.57,-1.00 Z" fill="#111" transform="rotate(180)"/></g>
<line x1="431.8" y1="36.2" x2="459" y2="48.3" stroke="#111" stroke-width="0.8" />
<line x1="459" y1="36.2" x2="431.8" y2="48.3" stroke="#111" stroke-width="0.8" />
<text x="475.9" y="37.6" font-size="8.56" fill="#231f20" stroke="#231f20" stroke-width="0.2" textLength="28.5" lengthAdjust="spacingAndGlyphs">p = 0.03</text>
<text x="490.3" y="49.0" font-size="8.24" fill="#231f20" stroke="#231f20" stroke-width="0.2" text-anchor="middle" textLength="8.13" lengthAdjust="spacingAndGlyphs">ns</text>
<path d="M472.3,55.4 V52.2 H507.5 V55.4" fill="none" stroke="#231f20" stroke-width="0.9"/>
<path d="M472.3,68.9 V66.6 H489.8 V68.9" fill="none" stroke="#231f20" stroke-width="0.9"/>
<text x="481.0" y="65.3" font-size="8.35" fill="#231f20" stroke="#231f20" stroke-width="0.2" text-anchor="middle" textLength="3.04" lengthAdjust="spacingAndGlyphs">*</text>
<line x1="472.9" y1="120.1" x2="472.9" y2="114.4" stroke="#3a3a3a" stroke-width="1" />
<line x1="470.59999999999997" y1="114.4" x2="475.2" y2="114.4" stroke="#3a3a3a" stroke-width="1" />
<rect x="468.0" y="120.1" width="9.800000000000011" height="25.400000000000006" fill="#7b5a8a" stroke="#6a4a7a" stroke-width="0.5"/>
<text x="472.9" y="141.2" font-size="9.1" fill="#fff" stroke="#fff" stroke-width="0.2" text-anchor="middle" textLength="4.73" lengthAdjust="spacingAndGlyphs" fill-opacity="0.9">9</text>
<line x1="472.9" y1="145.5" x2="472.9" y2="148.4" stroke="#000" stroke-width="1" />
<line x1="488.79999999999995" y1="84.1" x2="488.79999999999995" y2="71.2" stroke="#3a3a3a" stroke-width="1" />
<line x1="486.49999999999994" y1="71.2" x2="491.09999999999997" y2="71.2" stroke="#3a3a3a" stroke-width="1" />
<rect x="483.9" y="84.1" width="9.800000000000011" height="61.400000000000006" fill="#98c173" stroke="#8ab565" stroke-width="0.5"/>
<text x="488.79999999999995" y="141.2" font-size="9.1" fill="#fff" stroke="#fff" stroke-width="0.2" text-anchor="middle" textLength="4.73" lengthAdjust="spacingAndGlyphs" fill-opacity="0.9">6</text>
<line x1="488.79999999999995" y1="145.5" x2="488.79999999999995" y2="148.4" stroke="#000" stroke-width="1" />
<line x1="504.9" y1="104.4" x2="504.9" y2="93.4" stroke="#3a3a3a" stroke-width="1" />
<line x1="502.59999999999997" y1="93.4" x2="507.2" y2="93.4" stroke="#3a3a3a" stroke-width="1" />
<rect x="500.0" y="104.4" width="9.800000000000011" height="41.099999999999994" fill="#53246a" stroke="#3c1052" stroke-width="0.5"/>
<text x="504.9" y="141.2" font-size="9.1" fill="#fff" stroke="#fff" stroke-width="0.2" text-anchor="middle" textLength="4.73" lengthAdjust="spacingAndGlyphs" fill-opacity="0.9">4</text>
<line x1="504.9" y1="145.5" x2="504.9" y2="148.4" stroke="#000" stroke-width="1" />
<line x1="465.0" y1="51.8" x2="465.0" y2="146.0" stroke="#000" stroke-width="1.2" />
<line x1="462.3" y1="145.5" x2="512.4" y2="145.5" stroke="#000" stroke-width="1.2" />
<line x1="462.3" y1="145.5" x2="465.0" y2="145.5" stroke="#000" stroke-width="1" />
<text x="458.5" y="148.3" font-size="8.56" fill="#231f20" stroke="#231f20" stroke-width="0.2" text-anchor="end" textLength="4.45" lengthAdjust="spacingAndGlyphs">0</text>
<line x1="462.3" y1="127.44" x2="465.0" y2="127.44" stroke="#000" stroke-width="1" />
<text x="458.5" y="130.24" font-size="8.56" fill="#231f20" stroke="#231f20" stroke-width="0.2" text-anchor="end" textLength="15.57" lengthAdjust="spacingAndGlyphs">0.01</text>
<line x1="462.3" y1="109.38" x2="465.0" y2="109.38" stroke="#000" stroke-width="1" />
<text x="458.5" y="112.17999999999999" font-size="8.56" fill="#231f20" stroke="#231f20" stroke-width="0.2" text-anchor="end" textLength="15.57" lengthAdjust="spacingAndGlyphs">0.02</text>
<line x1="462.3" y1="91.32000000000001" x2="465.0" y2="91.32000000000001" stroke="#000" stroke-width="1" />
<text x="458.5" y="94.12" font-size="8.56" fill="#231f20" stroke="#231f20" stroke-width="0.2" text-anchor="end" textLength="15.57" lengthAdjust="spacingAndGlyphs">0.03</text>
<line x1="462.3" y1="73.26" x2="465.0" y2="73.26" stroke="#000" stroke-width="1" />
<text x="458.5" y="76.06" font-size="8.56" fill="#231f20" stroke="#231f20" stroke-width="0.2" text-anchor="end" textLength="15.57" lengthAdjust="spacingAndGlyphs">0.04</text>
<line x1="462.3" y1="55.2" x2="465.0" y2="55.2" stroke="#000" stroke-width="1" />
<text x="458.5" y="58.0" font-size="8.56" fill="#231f20" stroke="#231f20" stroke-width="0.2" text-anchor="end" textLength="15.57" lengthAdjust="spacingAndGlyphs">0.05</text>
<text x="0" y="0" font-size="9.2" fill="#231f20" stroke="#231f20" stroke-width="0.2" text-anchor="middle" textLength="49.6" lengthAdjust="spacingAndGlyphs" transform="translate(425.6,99.2) rotate(-90)">Donor-derived</text>
<text x="0" y="0" font-size="9.2" fill="#231f20" stroke="#231f20" stroke-width="0.2" text-anchor="middle" textLength="78.9" lengthAdjust="spacingAndGlyphs" transform="translate(436.4,93.8) rotate(-90)">lin<tspan font-size="6.5" dx="0.3" dy="-3.0">-</tspan><tspan dy="3.0"> sca-1</tspan><tspan font-size="6" dx="0.2" dy="-3.2">+</tspan><tspan dy="3.2"> c-kit</tspan><tspan font-size="6" dx="0.2" dy="-3.2">+</tspan><tspan dy="3.2"> cells (%)</tspan></text>
<text x="437.0" y="158.6" font-size="9.1" fill="#231f20" stroke="#231f20" stroke-width="0.2" font-style="italic" textLength="20.6" lengthAdjust="spacingAndGlyphs">Gfra2</text>
<g class="rl" transform="translate(449.95,179.46) rotate(-43.5)"><text x="0" y="0" font-size="8.2" fill="#231f20" stroke="#231f20" stroke-width="0.2" textLength="13.4" lengthAdjust="spacingAndGlyphs">+/+</text><line x1="14.700000000000001" y1="-2.8" x2="20.3" y2="-2.8" stroke="#231f20" stroke-width="0.85"/><polygon points="23.1,-2.8 19.5,-4.8 20.200000000000003,-2.8 19.5,-0.8" fill="#231f20"/><text x="24.3" y="0" font-size="8.2" fill="#231f20" stroke="#231f20" stroke-width="0.2" textLength="10.9" lengthAdjust="spacingAndGlyphs">+/-</text></g>
<g class="rl" transform="translate(466.69,178.57) rotate(-43.5)"><text x="0" y="0" font-size="8.2" fill="#231f20" stroke="#231f20" stroke-width="0.2" textLength="13.4" lengthAdjust="spacingAndGlyphs">+/+</text><line x1="14.700000000000001" y1="-2.8" x2="20.3" y2="-2.8" stroke="#231f20" stroke-width="0.85"/><polygon points="23.1,-2.8 19.5,-4.8 20.200000000000003,-2.8 19.5,-0.8" fill="#231f20"/><text x="24.3" y="0" font-size="8.2" fill="#231f20" stroke="#231f20" stroke-width="0.2" textLength="9.6" lengthAdjust="spacingAndGlyphs">-/-</text></g>
<g class="rl" transform="translate(482.89,178.57) rotate(-43.5)"><text x="0" y="0" font-size="8.2" fill="#231f20" stroke="#231f20" stroke-width="0.2" textLength="9.6" lengthAdjust="spacingAndGlyphs">-/-</text><line x1="10.9" y1="-2.8" x2="16.5" y2="-2.8" stroke="#231f20" stroke-width="0.85"/><polygon points="19.3,-2.8 15.700000000000001,-4.8 16.400000000000002,-2.8 15.700000000000001,-0.8" fill="#231f20"/><text x="20.5" y="0" font-size="8.2" fill="#231f20" stroke="#231f20" stroke-width="0.2" textLength="13.4" lengthAdjust="spacingAndGlyphs">+/+</text></g>
<line x1="67.4" y1="210.4" x2="67.4" y2="294.6" stroke="#000" stroke-width="1.2" />
<line x1="64.2" y1="294.1" x2="157.7" y2="294.1" stroke="#000" stroke-width="1.45" />
<line x1="64.6" y1="226.3" x2="67.4" y2="226.3" stroke="#000" stroke-width="1" />
<text x="61.0" y="229.10000000000002" font-size="8.56" fill="#231f20" stroke="#231f20" stroke-width="0.2" text-anchor="end" textLength="20.02" lengthAdjust="spacingAndGlyphs">0.006</text>
<line x1="64.6" y1="248.8" x2="67.4" y2="248.8" stroke="#000" stroke-width="1" />
<text x="61.0" y="251.60000000000002" font-size="8.56" fill="#231f20" stroke="#231f20" stroke-width="0.2" text-anchor="end" textLength="20.02" lengthAdjust="spacingAndGlyphs">0.004</text>
<line x1="64.6" y1="271.3" x2="67.4" y2="271.3" stroke="#000" stroke-width="1" />
<text x="61.0" y="274.1" font-size="8.56" fill="#231f20" stroke="#231f20" stroke-width="0.2" text-anchor="end" textLength="20.02" lengthAdjust="spacingAndGlyphs">0.002</text>
<line x1="64.6" y1="293.8" x2="67.4" y2="293.8" stroke="#000" stroke-width="1" />
<text x="61.0" y="296.6" font-size="8.56" fill="#231f20" stroke="#231f20" stroke-width="0.2" text-anchor="end" textLength="4.45" lengthAdjust="spacingAndGlyphs">0</text>
<line x1="78.9" y1="294.0" x2="78.9" y2="296.8" stroke="#000" stroke-width="1" />
<line x1="101.6" y1="294.0" x2="101.6" y2="296.8" stroke="#000" stroke-width="1" />
<line x1="124.4" y1="294.0" x2="124.4" y2="296.8" stroke="#000" stroke-width="1" />
<line x1="147.0" y1="294.0" x2="147.0" y2="296.8" stroke="#000" stroke-width="1" />
<text x="78.9" y="307.4" font-size="8.77" fill="#231f20" stroke="#231f20" stroke-width="0.2" text-anchor="middle" textLength="9.12" lengthAdjust="spacingAndGlyphs">21</text>
<text x="101.6" y="307.4" font-size="8.77" fill="#231f20" stroke="#231f20" stroke-width="0.2" text-anchor="middle" textLength="4.56" lengthAdjust="spacingAndGlyphs">3</text>
<text x="124.4" y="307.4" font-size="8.77" fill="#231f20" stroke="#231f20" stroke-width="0.2" text-anchor="middle" textLength="9.12" lengthAdjust="spacingAndGlyphs">13</text>
<text x="147.0" y="307.4" font-size="8.77" fill="#231f20" stroke="#231f20" stroke-width="0.2" text-anchor="middle" textLength="9.12" lengthAdjust="spacingAndGlyphs">21</text>
<text x="80.1" y="320.6" font-size="9.2" fill="#231f20" stroke="#231f20" stroke-width="0.2" textLength="65.2" lengthAdjust="spacingAndGlyphs">Zeitgeber time (ZT)</text>
<rect x="61.5" y="326.0" width="102.5" height="6.7" fill="#000"/>
<rect x="89.0" y="326.9" width="34.6" height="4.9" fill="#fff"/>
<text x="0" y="0" font-size="9.2" fill="#231f20" stroke="#231f20" stroke-width="0.2" text-anchor="middle" textLength="48.6" lengthAdjust="spacingAndGlyphs" transform="translate(23.8,252.4) rotate(-90)"><tspan font-style="italic">Vcam 1</tspan> mRNA</text>
<text x="0" y="0" font-size="9.2" fill="#231f20" stroke="#231f20" stroke-width="0.2" text-anchor="middle" textLength="65.8" lengthAdjust="spacingAndGlyphs" transform="translate(33.2,252.3) rotate(-90)">(relative to <tspan font-style="italic">Gapdh</tspan>)</text>
<text x="73.5" y="240.5" font-size="9.1" fill="#63408a" stroke="#63408a" stroke-width="0.2" font-style="italic" textLength="18.8" lengthAdjust="spacingAndGlyphs">Gfra2</text>
<text x="92.6" y="237.78" font-size="6.18" fill="#63408a" stroke="#63408a" stroke-width="0.2" font-style="italic" textLength="7.2" lengthAdjust="spacingAndGlyphs">+/-</text>
<text x="73.5" y="256.6" font-size="9.1" fill="#6ab344" stroke="#6ab344" stroke-width="0.2" font-style="italic" textLength="18.0" lengthAdjust="spacingAndGlyphs">Gfra2</text>
<text x="91.8" y="253.88000000000002" font-size="6.18" fill="#6ab344" stroke="#6ab344" stroke-width="0.2" font-style="italic" textLength="6.0" lengthAdjust="spacingAndGlyphs">-/-</text>
<path d="M103.9,264.9 V262.4 H123.5 V264.9" fill="none" stroke="#5b2d7a" stroke-width="0.9"/>
<text x="113.8" y="260.8" font-size="8.35" fill="#63408a" stroke="#63408a" stroke-width="0.2" text-anchor="middle" textLength="3.04" lengthAdjust="spacingAndGlyphs">*</text>
<text x="124.3" y="260.1" font-size="8.35" fill="#000" stroke="#000" stroke-width="0.2" text-anchor="middle" textLength="3.04" lengthAdjust="spacingAndGlyphs">*</text>
<polyline points="78.9,273.7 101.6,287.5 124.4,270.2 147.0,273.4" fill="none" stroke="#4b1b68" stroke-width="1.5"/>
<polyline points="78.9,275.3 101.6,283.7 124.4,246.1 147.0,275.3" fill="none" stroke="#5aa433" stroke-width="1.5"/>
<circle cx="78.9" cy="273.7" r="3.9" fill="#4b1b68" stroke="#3a0d55" stroke-width="0.6"/>
<text x="78.8" y="268.6" font-size="7.7" fill="#63408a" stroke="#63408a" stroke-width="0.2" text-anchor="middle" textLength="4.0" lengthAdjust="spacingAndGlyphs">4</text>
<circle cx="101.6" cy="287.5" r="3.9" fill="#4b1b68" stroke="#3a0d55" stroke-width="0.6"/>
<text x="100.6" y="278.7" font-size="7.7" fill="#63408a" stroke="#63408a" stroke-width="0.2" text-anchor="middle" textLength="4.0" lengthAdjust="spacingAndGlyphs">4</text>
<line x1="124.4" y1="270.2" x2="124.4" y2="282.4" stroke="#4b1b68" stroke-width="1" />
<line x1="120.60000000000001" y1="282.4" x2="128.20000000000002" y2="282.4" stroke="#4b1b68" stroke-width="1" />
<circle cx="124.4" cy="270.2" r="3.9" fill="#4b1b68" stroke="#3a0d55" stroke-width="0.6"/>
<text x="124.4" y="272.7" font-size="7.7" fill="#fff" stroke="#fff" stroke-width="0.2" text-anchor="middle" textLength="4.0" lengthAdjust="spacingAndGlyphs">6</text>
<circle cx="147.0" cy="273.4" r="3.9" fill="#4b1b68" stroke="#3a0d55" stroke-width="0.6"/>
<text x="146.8" y="265.9" font-size="7.7" fill="#63408a" stroke="#63408a" stroke-width="0.2" text-anchor="middle" textLength="4.0" lengthAdjust="spacingAndGlyphs">4</text>
<rect x="74.80000000000001" y="271.2" width="8.2" height="8.2" fill="#5aa433"/>
<text x="78.9" y="278.3" font-size="8.56" fill="#fff" stroke="#fff" stroke-width="0.2" text-anchor="middle" textLength="4.45" lengthAdjust="spacingAndGlyphs">4</text>
<rect x="97.5" y="279.59999999999997" width="8.2" height="8.2" fill="#5aa433"/>
<text x="101.6" y="286.7" font-size="8.56" fill="#fff" stroke="#fff" stroke-width="0.2" text-anchor="middle" textLength="4.45" lengthAdjust="spacingAndGlyphs">4</text>
<line x1="124.4" y1="246.1" x2="124.4" y2="227.8" stroke="#5aa433" stroke-width="1" />
<line x1="120.60000000000001" y1="227.8" x2="128.20000000000002" y2="227.8" stroke="#5aa433" stroke-width="1" />
<rect x="120.30000000000001" y="242.0" width="8.2" height="8.2" fill="#5aa433"/>
<text x="124.4" y="249.1" font-size="8.56" fill="#fff" stroke="#fff" stroke-width="0.2" text-anchor="middle" textLength="4.45" lengthAdjust="spacingAndGlyphs">5</text>
<rect x="142.9" y="271.2" width="8.2" height="8.2" fill="#5aa433"/>
<text x="147.0" y="278.3" font-size="8.56" fill="#fff" stroke="#fff" stroke-width="0.2" text-anchor="middle" textLength="4.45" lengthAdjust="spacingAndGlyphs">4</text>
<line x1="232.4" y1="210.4" x2="232.4" y2="294.6" stroke="#000" stroke-width="1.2" />
<line x1="229.2" y1="294.1" x2="322.7" y2="294.1" stroke="#000" stroke-width="1.45" />
<line x1="229.6" y1="226.3" x2="232.4" y2="226.3" stroke="#000" stroke-width="1" />
<text x="226.0" y="229.10000000000002" font-size="8.56" fill="#231f20" stroke="#231f20" stroke-width="0.2" text-anchor="end" textLength="20.02" lengthAdjust="spacingAndGlyphs">0.003</text>
<line x1="229.6" y1="248.8" x2="232.4" y2="248.8" stroke="#000" stroke-width="1" />
<text x="226.0" y="251.60000000000002" font-size="8.56" fill="#231f20" stroke="#231f20" stroke-width="0.2" text-anchor="end" textLength="20.02" lengthAdjust="spacingAndGlyphs">0.002</text>
<line x1="229.6" y1="271.3" x2="232.4" y2="271.3" stroke="#000" stroke-width="1" />
<text x="226.0" y="274.1" font-size="8.56" fill="#231f20" stroke="#231f20" stroke-width="0.2" text-anchor="end" textLength="20.02" lengthAdjust="spacingAndGlyphs">0.001</text>
<line x1="229.6" y1="293.8" x2="232.4" y2="293.8" stroke="#000" stroke-width="1" />
<text x="226.0" y="296.6" font-size="8.56" fill="#231f20" stroke="#231f20" stroke-width="0.2" text-anchor="end" textLength="4.45" lengthAdjust="spacingAndGlyphs">0</text>
<line x1="243.9" y1="294.0" x2="243.9" y2="296.8" stroke="#000" stroke-width="1" />
<line x1="266.6" y1="294.0" x2="266.6" y2="296.8" stroke="#000" stroke-width="1" />
<line x1="289.4" y1="294.0" x2="289.4" y2="296.8" stroke="#000" stroke-width="1" />
<line x1="312.0" y1="294.0" x2="312.0" y2="296.8" stroke="#000" stroke-width="1" />
<text x="243.9" y="307.4" font-size="8.77" fill="#231f20" stroke="#231f20" stroke-width="0.2" text-anchor="middle" textLength="9.12" lengthAdjust="spacingAndGlyphs">21</text>
<text x="266.6" y="307.4" font-size="8.77" fill="#231f20" stroke="#231f20" stroke-width="0.2" text-anchor="middle" textLength="4.56" lengthAdjust="spacingAndGlyphs">3</text>
<text x="289.4" y="307.4" font-size="8.77" fill="#231f20" stroke="#231f20" stroke-width="0.2" text-anchor="middle" textLength="9.12" lengthAdjust="spacingAndGlyphs">13</text>
<text x="312.0" y="307.4" font-size="8.77" fill="#231f20" stroke="#231f20" stroke-width="0.2" text-anchor="middle" textLength="9.12" lengthAdjust="spacingAndGlyphs">21</text>
<text x="245.1" y="320.6" font-size="9.2" fill="#231f20" stroke="#231f20" stroke-width="0.2" textLength="65.2" lengthAdjust="spacingAndGlyphs">Zeitgeber time (ZT)</text>
<rect x="226.5" y="326.0" width="102.5" height="6.7" fill="#000"/>
<rect x="254.0" y="326.9" width="34.6" height="4.9" fill="#fff"/>
<text x="0" y="0" font-size="9.2" fill="#231f20" stroke="#231f20" stroke-width="0.2" text-anchor="middle" textLength="38.6" lengthAdjust="spacingAndGlyphs" transform="translate(188.8,252.4) rotate(-90)"><tspan font-style="italic">Sele</tspan> mRNA</text>
<text x="0" y="0" font-size="9.2" fill="#231f20" stroke="#231f20" stroke-width="0.2" text-anchor="middle" textLength="65.8" lengthAdjust="spacingAndGlyphs" transform="translate(198.2,252.3) rotate(-90)">(relative to <tspan font-style="italic">Gapdh</tspan>)</text>
<path d="M267.7,268.8 V266.5 H287.5 V268.8" fill="none" stroke="#5b2d7a" stroke-width="0.9"/>
<text x="278.1" y="265.3" font-size="8.35" fill="#63408a" stroke="#63408a" stroke-width="0.2" text-anchor="middle" textLength="3.04" lengthAdjust="spacingAndGlyphs">*</text>
<text x="288.8" y="277.8" font-size="8.35" fill="#000" stroke="#000" stroke-width="0.2" text-anchor="middle" textLength="3.04" lengthAdjust="spacingAndGlyphs">*</text>
<polyline points="243.9,289.0 266.6,291.8 289.4,284.8 312.0,289.0" fill="none" stroke="#4b1b68" stroke-width="1.5"/>
<polyline points="243.9,284.6 266.6,290.4 289.4,252.0 312.0,284.6" fill="none" stroke="#5aa433" stroke-width="1.5"/>
<circle cx="243.9" cy="289.0" r="3.9" fill="#4b1b68" stroke="#3a0d55" stroke-width="0.6"/>
<text x="243.4" y="279.2" font-size="7.7" fill="#63408a" stroke="#63408a" stroke-width="0.2" text-anchor="middle" textLength="4.0" lengthAdjust="spacingAndGlyphs">4</text>
<circle cx="266.6" cy="291.8" r="3.9" fill="#4b1b68" stroke="#3a0d55" stroke-width="0.6"/>
<text x="264.9" y="284.6" font-size="7.7" fill="#63408a" stroke="#63408a" stroke-width="0.2" text-anchor="middle" textLength="4.0" lengthAdjust="spacingAndGlyphs">4</text>
<circle cx="289.4" cy="284.8" r="3.9" fill="#4b1b68" stroke="#3a0d55" stroke-width="0.6"/>
<text x="289.4" y="287.3" font-size="7.7" fill="#fff" stroke="#fff" stroke-width="0.2" text-anchor="middle" textLength="4.0" lengthAdjust="spacingAndGlyphs">6</text>
<circle cx="312.0" cy="289.0" r="3.9" fill="#4b1b68" stroke="#3a0d55" stroke-width="0.6"/>
<text x="311.2" y="278.8" font-size="7.7" fill="#63408a" stroke="#63408a" stroke-width="0.2" text-anchor="middle" textLength="4.0" lengthAdjust="spacingAndGlyphs">4</text>
<rect x="239.8" y="280.5" width="8.2" height="8.2" fill="#5aa433"/>
<text x="243.9" y="287.6" font-size="8.56" fill="#fff" stroke="#fff" stroke-width="0.2" text-anchor="middle" textLength="4.45" lengthAdjust="spacingAndGlyphs">4</text>
<rect x="262.5" y="286.29999999999995" width="8.2" height="8.2" fill="#5aa433"/>
<text x="266.6" y="293.4" font-size="8.56" fill="#fff" stroke="#fff" stroke-width="0.2" text-anchor="middle" textLength="4.45" lengthAdjust="spacingAndGlyphs">4</text>
<line x1="289.4" y1="252.0" x2="289.4" y2="223.3" stroke="#5aa433" stroke-width="1" />
<line x1="285.59999999999997" y1="223.3" x2="293.2" y2="223.3" stroke="#5aa433" stroke-width="1" />
<rect x="285.29999999999995" y="247.9" width="8.2" height="8.2" fill="#5aa433"/>
<text x="289.4" y="255.0" font-size="8.56" fill="#fff" stroke="#fff" stroke-width="0.2" text-anchor="middle" textLength="4.45" lengthAdjust="spacingAndGlyphs">5</text>
<rect x="307.9" y="280.5" width="8.2" height="8.2" fill="#5aa433"/>
<text x="312.0" y="287.6" font-size="8.56" fill="#fff" stroke="#fff" stroke-width="0.2" text-anchor="middle" textLength="4.45" lengthAdjust="spacingAndGlyphs">4</text>
<line x1="397.4" y1="210.4" x2="397.4" y2="294.6" stroke="#000" stroke-width="1.2" />
<line x1="394.2" y1="294.1" x2="487.7" y2="294.1" stroke="#000" stroke-width="1.45" />
<line x1="394.6" y1="234.2" x2="397.4" y2="234.2" stroke="#000" stroke-width="1" />
<text x="391.0" y="237.0" font-size="8.56" fill="#231f20" stroke="#231f20" stroke-width="0.2" text-anchor="end" textLength="20.02" lengthAdjust="spacingAndGlyphs">0.010</text>
<line x1="394.6" y1="264.1" x2="397.4" y2="264.1" stroke="#000" stroke-width="1" />
<text x="391.0" y="266.90000000000003" font-size="8.56" fill="#231f20" stroke="#231f20" stroke-width="0.2" text-anchor="end" textLength="20.02" lengthAdjust="spacingAndGlyphs">0.005</text>
<line x1="394.6" y1="294.0" x2="397.4" y2="294.0" stroke="#000" stroke-width="1" />
<text x="391.0" y="296.8" font-size="8.56" fill="#231f20" stroke="#231f20" stroke-width="0.2" text-anchor="end" textLength="4.45" lengthAdjust="spacingAndGlyphs">0</text>
<line x1="408.9" y1="294.0" x2="408.9" y2="296.8" stroke="#000" stroke-width="1" />
<line x1="431.6" y1="294.0" x2="431.6" y2="296.8" stroke="#000" stroke-width="1" />
<line x1="454.4" y1="294.0" x2="454.4" y2="296.8" stroke="#000" stroke-width="1" />
<line x1="477.0" y1="294.0" x2="477.0" y2="296.8" stroke="#000" stroke-width="1" />
<text x="408.9" y="307.4" font-size="8.77" fill="#231f20" stroke="#231f20" stroke-width="0.2" text-anchor="middle" textLength="9.12" lengthAdjust="spacingAndGlyphs">21</text>
<text x="431.6" y="307.4" font-size="8.77" fill="#231f20" stroke="#231f20" stroke-width="0.2" text-anchor="middle" textLength="4.56" lengthAdjust="spacingAndGlyphs">3</text>
<text x="454.4" y="307.4" font-size="8.77" fill="#231f20" stroke="#231f20" stroke-width="0.2" text-anchor="middle" textLength="9.12" lengthAdjust="spacingAndGlyphs">13</text>
<text x="477.0" y="307.4" font-size="8.77" fill="#231f20" stroke="#231f20" stroke-width="0.2" text-anchor="middle" textLength="9.12" lengthAdjust="spacingAndGlyphs">21</text>
<text x="410.1" y="320.6" font-size="9.2" fill="#231f20" stroke="#231f20" stroke-width="0.2" textLength="65.2" lengthAdjust="spacingAndGlyphs">Zeitgeber time (ZT)</text>
<rect x="391.5" y="326.0" width="102.5" height="6.7" fill="#000"/>
<rect x="419.0" y="326.9" width="34.6" height="4.9" fill="#fff"/>
<text x="0" y="0" font-size="9.2" fill="#231f20" stroke="#231f20" stroke-width="0.2" text-anchor="middle" textLength="38.6" lengthAdjust="spacingAndGlyphs" transform="translate(353.8,252.4) rotate(-90)"><tspan font-style="italic">Selp</tspan> mRNA</text>
<text x="0" y="0" font-size="9.2" fill="#231f20" stroke="#231f20" stroke-width="0.2" text-anchor="middle" textLength="65.8" lengthAdjust="spacingAndGlyphs" transform="translate(363.2,252.3) rotate(-90)">(relative to <tspan font-style="italic">Gapdh</tspan>)</text>
<path d="M433.3,262.8 V260.6 H452.5 V262.8" fill="none" stroke="#5b2d7a" stroke-width="0.9"/>
<text x="443.8" y="257.0" font-size="7.81" fill="#63408a" stroke="#63408a" stroke-width="0.2" text-anchor="middle" textLength="7.71" lengthAdjust="spacingAndGlyphs">ns</text>
<polyline points="408.9,279.0 431.6,279.4 454.4,268.3 477.0,279.0" fill="none" stroke="#4b1b68" stroke-width="1.5"/>
<polyline points="408.9,268.7 431.6,277.7 454.4,252.0 477.0,268.7" fill="none" stroke="#5aa433" stroke-width="1.5"/>
<line x1="408.9" y1="279.0" x2="408.9" y2="283.8" stroke="#4b1b68" stroke-width="1" />
<line x1="405.09999999999997" y1="283.8" x2="412.7" y2="283.8" stroke="#4b1b68" stroke-width="1" />
<circle cx="408.9" cy="279.0" r="3.9" fill="#4b1b68" stroke="#3a0d55" stroke-width="0.6"/>
<text x="408.9" y="281.5" font-size="7.7" fill="#fff" stroke="#fff" stroke-width="0.2" text-anchor="middle" textLength="4.0" lengthAdjust="spacingAndGlyphs">4</text>
<line x1="431.6" y1="279.4" x2="431.6" y2="286.0" stroke="#4b1b68" stroke-width="1" />
<line x1="427.8" y1="286.0" x2="435.40000000000003" y2="286.0" stroke="#4b1b68" stroke-width="1" />
<circle cx="431.6" cy="279.4" r="3.9" fill="#4b1b68" stroke="#3a0d55" stroke-width="0.6"/>
<text x="430.4" y="270.8" font-size="7.7" fill="#63408a" stroke="#63408a" stroke-width="0.2" text-anchor="middle" textLength="4.0" lengthAdjust="spacingAndGlyphs">4</text>
<line x1="454.4" y1="268.3" x2="454.4" y2="283.8" stroke="#4b1b68" stroke-width="1" />
<line x1="450.59999999999997" y1="283.8" x2="458.2" y2="283.8" stroke="#4b1b68" stroke-width="1" />
<circle cx="454.4" cy="268.3" r="3.9" fill="#4b1b68" stroke="#3a0d55" stroke-width="0.6"/>
<text x="454.4" y="270.8" font-size="7.7" fill="#fff" stroke="#fff" stroke-width="0.2" text-anchor="middle" textLength="4.0" lengthAdjust="spacingAndGlyphs">6</text>
<line x1="477.0" y1="279.0" x2="477.0" y2="283.8" stroke="#4b1b68" stroke-width="1" />
<line x1="473.2" y1="283.8" x2="480.8" y2="283.8" stroke="#4b1b68" stroke-width="1" />
<circle cx="477.0" cy="279.0" r="3.9" fill="#4b1b68" stroke="#3a0d55" stroke-width="0.6"/>
<text x="477.0" y="281.5" font-size="7.7" fill="#fff" stroke="#fff" stroke-width="0.2" text-anchor="middle" textLength="4.0" lengthAdjust="spacingAndGlyphs">4</text>
<line x1="408.9" y1="268.7" x2="408.9" y2="261.5" stroke="#5aa433" stroke-width="1" />
<line x1="405.09999999999997" y1="261.5" x2="412.7" y2="261.5" stroke="#5aa433" stroke-width="1" />
<rect x="404.79999999999995" y="264.59999999999997" width="8.2" height="8.2" fill="#5aa433"/>
<text x="408.9" y="271.7" font-size="8.56" fill="#fff" stroke="#fff" stroke-width="0.2" text-anchor="middle" textLength="4.45" lengthAdjust="spacingAndGlyphs">4</text>
<line x1="431.6" y1="277.7" x2="431.6" y2="272.8" stroke="#5aa433" stroke-width="1" />
<line x1="427.8" y1="272.8" x2="435.40000000000003" y2="272.8" stroke="#5aa433" stroke-width="1" />
<rect x="427.5" y="273.59999999999997" width="8.2" height="8.2" fill="#5aa433"/>
<text x="431.6" y="280.7" font-size="8.56" fill="#fff" stroke="#fff" stroke-width="0.2" text-anchor="middle" textLength="4.45" lengthAdjust="spacingAndGlyphs">4</text>
<line x1="454.4" y1="252.0" x2="454.4" y2="233.3" stroke="#5aa433" stroke-width="1" />
<line x1="450.59999999999997" y1="233.3" x2="458.2" y2="233.3" stroke="#5aa433" stroke-width="1" />
<rect x="450.29999999999995" y="247.9" width="8.2" height="8.2" fill="#5aa433"/>
<text x="454.4" y="255.0" font-size="8.56" fill="#fff" stroke="#fff" stroke-width="0.2" text-anchor="middle" textLength="4.45" lengthAdjust="spacingAndGlyphs">5</text>
<line x1="477.0" y1="268.7" x2="477.0" y2="261.5" stroke="#5aa433" stroke-width="1" />
<line x1="473.2" y1="261.5" x2="480.8" y2="261.5" stroke="#5aa433" stroke-width="1" />
<rect x="472.9" y="264.59999999999997" width="8.2" height="8.2" fill="#5aa433"/>
<text x="477.0" y="271.7" font-size="8.56" fill="#fff" stroke="#fff" stroke-width="0.2" text-anchor="middle" textLength="4.45" lengthAdjust="spacingAndGlyphs">4</text>
</svg>
</body></html>
